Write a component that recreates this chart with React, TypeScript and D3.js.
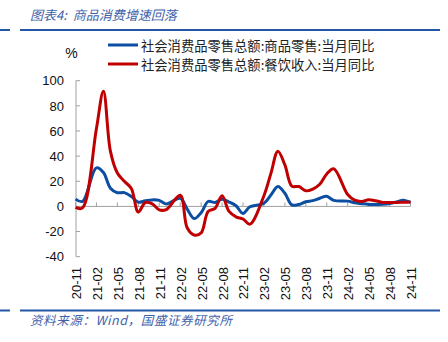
import React from "react";
import * as d3 from "d3";

const months = [
  "20-11","20-12",
  "21-01","21-02","21-03","21-04","21-05","21-06","21-07","21-08","21-09","21-10","21-11","21-12",
  "22-01","22-02","22-03","22-04","22-05","22-06","22-07","22-08","22-09","22-10","22-11","22-12",
  "23-01","23-02","23-03","23-04","23-05","23-06","23-07","23-08","23-09","23-10","23-11","23-12",
  "24-01","24-02","24-03","24-04","24-05","24-06","24-07","24-08","24-09","24-10","24-11",
];

// 商品零售 当月同比 (null = January, no separate release)
const goodsYoY: (number | null)[] = [
  5.8, 4.0,
  null, 30.7, 27.0, 14.5, 10.9, 11.0, 7.9, 3.3, 4.5, 5.2, 4.8, 2.0,
  null, 6.5, -2.1, -9.7, -5.0, 3.9, 3.2, 5.6, 3.5, 0.5, -5.6, -0.3,
  null, 2.5, 9.1, 15.9, 10.5, 1.2, 1.5, 3.7, 4.6, 6.5, 8.0, 4.8,
  null, 4.2, 2.9, 2.2, 1.6, 1.5, 1.8, 2.4, 3.6, 5.0, 3.2,
];

// 餐饮收入 当月同比
const cateringYoY: (number | null)[] = [
  -0.8, -1.2,
  null, 62.0, 91.6, 44.0, 26.6, 20.0, 14.3, -4.5, 3.1, 2.0, -2.7, -2.5,
  null, 8.9, -17.0, -22.7, -21.1, -4.0, -1.5, 8.4, -4.0, -8.3, -10.0, -14.1,
  null, 8.5, 26.3, 43.8, 33.0, 16.1, 15.8, 12.4, 13.8, 17.6, 25.8, 30.0,
  null, 9.5, 5.0, 4.0, 5.3, 4.5, 3.2, 3.2, 3.2, 3.3, 3.5,
];

const tickLabels = [
  "20-11","21-02","21-05","21-08","21-11","22-02","22-05","22-08","22-11",
  "23-02","23-05","23-08","23-11","24-02","24-05","24-08","24-11",
];
const yTicks = [-40, -20, 0, 20, 40, 60, 80, 100];

const seriesNames = [
  "社会消费品零售总额:商品零售:当月同比",
  "社会消费品零售总额:餐饮收入:当月同比",
];
const seriesColors = ["#0B4EA2", "#C00000"];

const W = 448;
const H = 342;

export default function App() {
  const x = d3.scalePoint<string>().domain(months).range([75.5, 410.5]);
  const y = d3.scaleLinear().domain([-40, 100]).range([256.7, 80.7]);

  const makePath = (vals: (number | null)[]) => {
    const pts = months
      .map((m, i) => [m, vals[i]] as [string, number | null])
      .filter((d) => d[1] !== null) as [string, number][];
    return d3
      .line<[string, number]>()
      .x((d) => x(d[0]) as number)
      .y((d) => y(d[1]))
      .curve(d3.curveCatmullRom.alpha(0.5))(pts) as string;
  };

  const axisColor = "#A0A0A0";
  const ruleColor = "#2457A6";
  const numFont = "'Liberation Sans', Arial, sans-serif";
  const cjkFont = "'Noto Sans CJK SC', sans-serif";
  const y0 = y(0);

  return (
    <svg
      width={W}
      height={H}
      style={{ position: "absolute", left: 0, top: 0, display: "block", background: "#fff" }}
    >
      {/* title */}
      <text x={30} y={20} fontFamily={cjkFont} fontSize={13} fontStyle="italic" fill="#3F62AA">
        {"图表4:\u00A0\u00A0商品消费增速回落"}
      </text>
      <line x1={0} x2={10} y1={30} y2={30} stroke={ruleColor} strokeWidth={2} />
      <line x1={20} x2={440} y1={30} y2={30} stroke={ruleColor} strokeWidth={2} />

      {/* unit */}
      <text x={71.5} y={58} textAnchor="middle" fontFamily={numFont} fontSize={14} fill="#111">%</text>

      {/* legend */}
      {seriesNames.map((name, i) => (
        <g key={name}>
          <line x1={108} x2={138} y1={45 + i * 19} y2={45 + i * 19} stroke={seriesColors[i]} strokeWidth={3} />
          <text
            x={141}
            y={45 + i * 19}
            dominantBaseline="central"
            fontFamily={cjkFont}
            fontSize={13.3}
            fill="#222"
          >
            {name}
          </text>
        </g>
      ))}

      {/* y axis */}
      <line x1={76} x2={76} y1={y(100)} y2={y(-40)} stroke={axisColor} strokeWidth={1} />
      {yTicks.map((t) => (
        <g key={t}>
          <line x1={76} x2={80} y1={y(t)} y2={y(t)} stroke={axisColor} strokeWidth={1} />
          <text
            x={64}
            y={y(t)}
            dy="0.36em"
            textAnchor="end"
            fontFamily={numFont}
            fontSize={13}
            fill="#111"
          >
            {t}
          </text>
        </g>
      ))}

      {/* x axis at zero */}
      <line x1={76} x2={x(months[months.length - 1]) as number} y1={y0} y2={y0} stroke={axisColor} strokeWidth={1} />
      {tickLabels.map((lab) => {
        const xx = x(lab) as number;
        return (
          <g key={lab}>
            <line x1={xx} x2={xx} y1={y0} y2={y0 - 4} stroke={axisColor} strokeWidth={1} />
            <text
              transform={`translate(${xx + 0.8},267) rotate(-90)`}
              dy="0.36em"
              textAnchor="end"
              fontFamily={numFont}
              fontSize={13}
              fill="#111"
            >
              {lab}
            </text>
          </g>
        );
      })}

      {/* series */}
      <path d={makePath(goodsYoY)} fill="none" stroke={seriesColors[0]} strokeWidth={3} strokeLinejoin="round" />
      <path d={makePath(cateringYoY)} fill="none" stroke={seriesColors[1]} strokeWidth={3} strokeLinejoin="round" />

      {/* source */}
      <line x1={0} x2={10} y1={310.5} y2={310.5} stroke={ruleColor} strokeWidth={2} />
      <line x1={20} x2={440} y1={310.5} y2={310.5} stroke={ruleColor} strokeWidth={2} />
      <text x={30} y={325} fontFamily={cjkFont} fontSize={12.5} letterSpacing={0.6} fontStyle="italic" fill="#3F62AA">
        资料来源：Wind，国盛证券研究所
      </text>
    </svg>
  );
}
